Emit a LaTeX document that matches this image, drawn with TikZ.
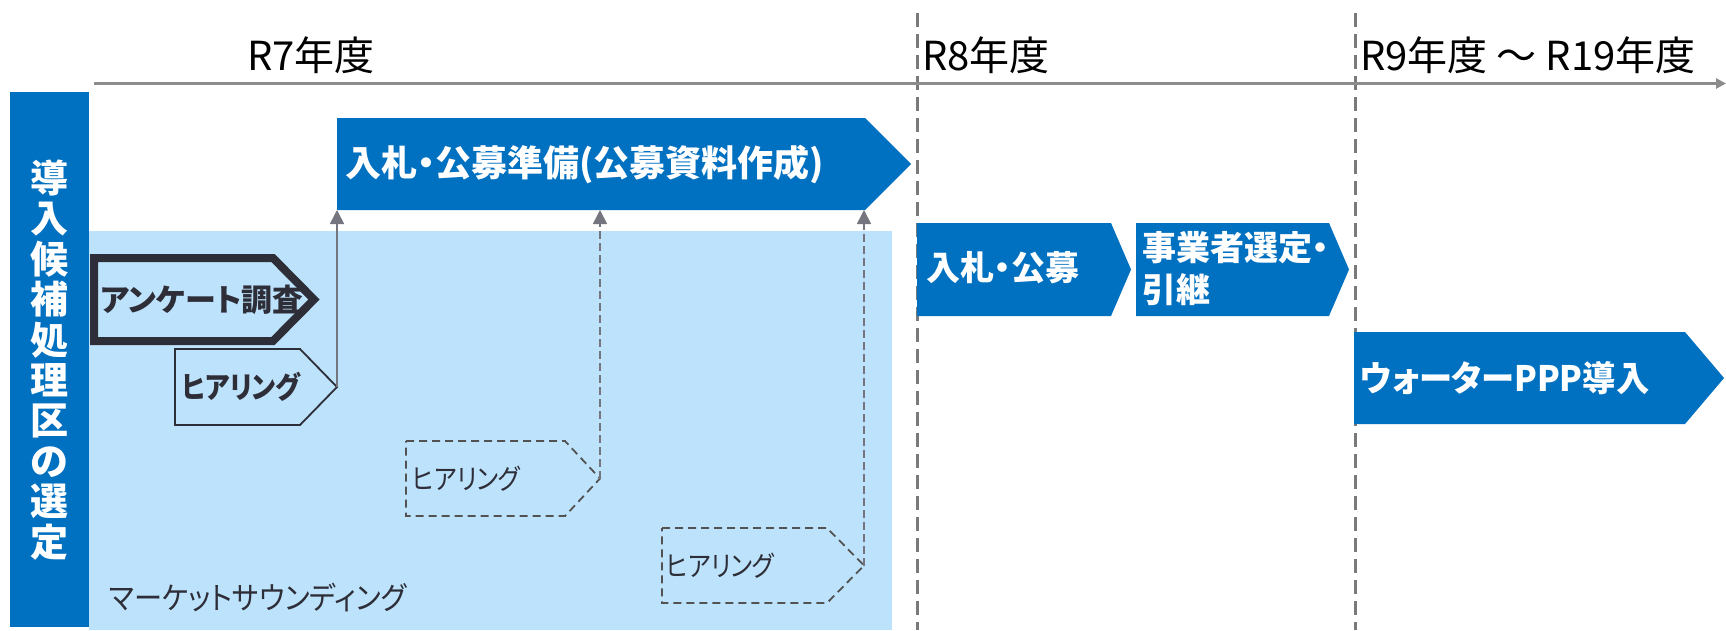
\documentclass[tikz,border=0pt]{standalone}
\usepackage{fontspec}
\setmainfont{Noto Sans CJK JP}[RawFeature=+palt]
\newfontfamily\narrowa{Noto Sans CJK JP}[RawFeature=+palt,FakeStretch=0.87]
\newfontfamily\narrowb{Noto Sans CJK JP}[RawFeature=+palt,FakeStretch=0.91]
\newfontfamily\narrowc{Noto Sans CJK JP}[RawFeature=+palt,FakeStretch=0.95]
\usetikzlibrary{arrows.meta}
\definecolor{mblue}{HTML}{0070C0}
\definecolor{lblue}{HTML}{BDE3FC}
\definecolor{dark}{HTML}{2E2E38}
\definecolor{arrgray}{HTML}{75757F}
\definecolor{axgray}{HTML}{8C8C8C}
\definecolor{dashgray}{HTML}{7A7A7A}
\begin{document}
\begin{tikzpicture}[x=1pt,y=-1pt,
  thickbox/.style={draw=dark,line width=8pt,line join=miter},
  thinbox/.style={draw=dark,line width=1.8pt,line join=miter},
  dashbox/.style={draw=black!68,line width=1.8pt,dash pattern=on 8pt off 5pt},
  yearline/.style={draw=dashgray,line width=3pt,dash pattern=on 14pt off 7pt},
  lbl/.style={anchor=west,inner sep=0pt},
  wlbl/.style={lbl,text=white,font=\fontsize{35}{42}\selectfont\bfseries},
  yearlbl/.style={anchor=base west,inner sep=0pt,text=black,font=\fontsize{40}{48}\selectfont},
  upar/.style={draw=arrgray,line width=1.6pt,-{Triangle[length=14pt,width=14pt]}},
  dupar/.style={upar,dash pattern=on 8pt off 4pt}]
\useasboundingbox (0,0) rectangle (1726,630);
\fill[white] (0,0) rectangle (1726,630);
% year dashed lines
\coordinate (y8top) at (917,13);
\coordinate (y8bot) at (917,630);
\coordinate (y9top) at (1355,13);
\coordinate (y9bot) at (1355,630);
\draw[yearline] (y8top) -- (y8bot);
\draw[yearline] (y9top) -- (y9bot);
% axis
\coordinate (axs) at (94,83.5);
\coordinate (axe) at (1726,83.5);
\draw[draw=axgray,line width=2.5pt,-{Triangle[length=10pt,width=10pt]}] (axs) -- (axe);
% year labels
\node[yearlbl] (r7) at (247,70) {R7年度};
\node[yearlbl] (r8) at (922,70) {R8年度};
\node[yearlbl] (r9) at (1360,70) {R9年度 ～ R19年度};
% market sounding area
\fill[lblue] (89,231) rectangle (892,630);
% left bar
\fill[mblue] (10,92) rectangle (89,627);
\node[inner sep=0pt,align=center,text=white,font=\fontsize{38}{40.4}\selectfont\bfseries] (sel0) at (49.5,360)
  {導\\入\\候\\補\\処\\理\\区\\の\\選\\定};
% preparation box
\fill[mblue] (337,118) -- (865,118) -- (911,164) -- (865,210) -- (337,210) -- cycle;
\node[wlbl,font=\fontsize{36}{42}\selectfont\bfseries] (prep) at (345,164) {入札・公募準備(公募資料作成)};
\coordinate (prepA) at (337,210);
\coordinate (prepB) at (600,210);
\coordinate (prepC) at (864,210);
% bid box
\fill[mblue] (917,223) -- (1111,223) -- (1131,269.5) -- (1111,316) -- (917,316) -- cycle;
\node[wlbl,font=\fontsize{34}{42}\selectfont\bfseries] (bid) at (926,268) {入札・公募};
% selection box
\fill[mblue] (1136,223) -- (1329,223) -- (1349,269.5) -- (1329,316) -- (1136,316) -- cycle;
\node[wlbl,align=left,font=\fontsize{34}{42}\selectfont\bfseries] (selx) at (1142,269) {事業者選定・\\引継};
% water PPP box
\fill[mblue] (1354,332) -- (1685,332) -- (1724,378) -- (1685,424) -- (1354,424) -- cycle;
\node[wlbl,font=\narrowc\fontsize{35}{42}\selectfont\bfseries] (ppp) at (1360,378) {ウォーターPPP導入};
% questionnaire box
\draw[thickbox] (94,258) -- (273,258) -- (314,299.5) -- (273,341) -- (94,341) -- cycle;
\node[lbl,text=dark,font=\fontsize{31}{36}\selectfont\bfseries] (enq) at (100,300) {アンケート調査};
% hearing 1
\draw[thinbox] (175,349) -- (300,349) -- (337,387) -- (300,425) -- (175,425) -- cycle;
\coordinate (h1tip) at (337,387);
\node[lbl,text=dark,font=\narrowa\fontsize{30}{36}\selectfont\bfseries] (h1) at (182,387) {ヒアリング};
% hearing 2
\draw[dashbox] (406,441) -- (565,441) -- (600,478.5) -- (565,516) -- (406,516) -- cycle;
\coordinate (h2tip) at (600,478.5);
\node[lbl,text=dark,font=\narrowa\fontsize{28}{34}\selectfont] (h2) at (412,479) {ヒアリング};
% hearing 3
\draw[dashbox] (662,528) -- (827,528) -- (864,565.5) -- (827,603) -- (662,603) -- cycle;
\coordinate (h3tip) at (864,565.5);
\node[lbl,text=dark,font=\narrowa\fontsize{28}{34}\selectfont] (h3) at (666,566) {ヒアリング};
% market sounding label
\node[lbl,text=dark,font=\narrowb\fontsize{31}{36}\selectfont] (ms) at (109,597) {マーケットサウンディング};
% connectors
\draw[upar] (h1tip) -- (prepA);
\draw[dupar] (h2tip) -- (prepB);
\draw[dupar] (h3tip) -- (prepC);
\end{tikzpicture}
\end{document}
